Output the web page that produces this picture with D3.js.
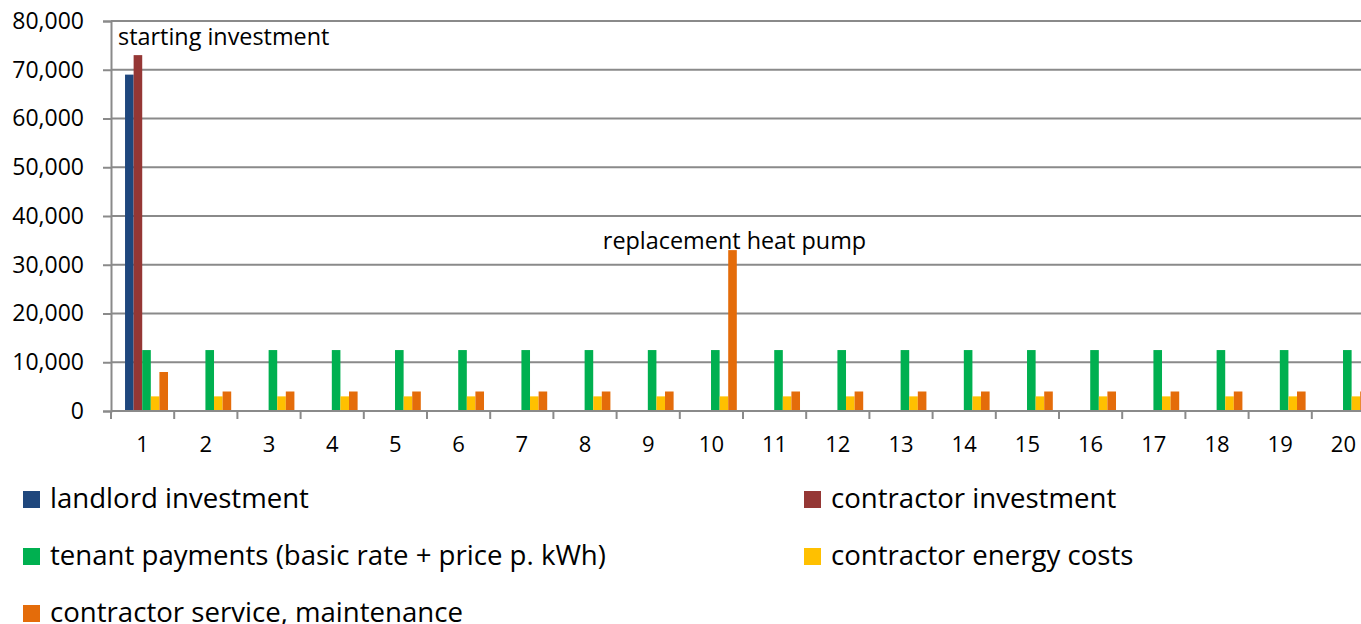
<!DOCTYPE html>
<html>
<head>
<meta charset="utf-8">
<script src="https://cdn.jsdelivr.net/npm/d3@7"></script>
<style>
  html, body { margin: 0; padding: 0; background: #fff; }
  svg { display: block; font-family: "Open Sans", "Noto Sans", sans-serif; }
</style>
</head>
<body>
<svg id="chart" width="1361" height="624"></svg>
<script>
// Years on the x axis.
const years = d3.range(1, 21).map(String);

// Series, one value per year (EUR).
const landlordInvestment = [69000, 0, 0, 0, 0, 0, 0, 0, 0, 0, 0, 0, 0, 0, 0, 0, 0, 0, 0, 0];
const contractorInvestment = [73000, 0, 0, 0, 0, 0, 0, 0, 0, 0, 0, 0, 0, 0, 0, 0, 0, 0, 0, 0];
const tenantPayments = [12500, 12500, 12500, 12500, 12500, 12500, 12500, 12500, 12500, 12500,
  12500, 12500, 12500, 12500, 12500, 12500, 12500, 12500, 12500, 12500];
const energyCosts = [3000, 3000, 3000, 3000, 3000, 3000, 3000, 3000, 3000, 3000,
  3000, 3000, 3000, 3000, 3000, 3000, 3000, 3000, 3000, 3000];
const serviceMaintenance = [8000, 4000, 4000, 4000, 4000, 4000, 4000, 4000, 4000, 33000,
  4000, 4000, 4000, 4000, 4000, 4000, 4000, 4000, 4000, 4000];

const seriesNames = [
  'landlord investment',
  'contractor investment',
  'tenant payments (basic rate + price p. kWh)',
  'contractor energy costs',
  'contractor service, maintenance',
];
const seriesValues = [landlordInvestment, contractorInvestment, tenantPayments,
  energyCosts, serviceMaintenance];
const seriesColors = ['#1f477d', '#953735', '#00b050', '#ffc000', '#e46c0a'];

const yTicks = [0, 10000, 20000, 30000, 40000, 50000, 60000, 70000, 80000];

// Labels sit above the bar they describe (series index 1 = contractor
// investment, 4 = service/maintenance).
const annotations = [
  {text: 'starting investment', year: '1', series: 1},
  {text: 'replacement heat pump', year: '10', series: 4},
];

const svg = d3.select('#chart');

// Plot area; the last category runs past the right edge, as in the original.
const plot = {left: 111, top: 21, bottom: 411, band: 63.2};

const x = d3.scaleBand()
    .domain(years)
    .range([plot.left, plot.left + plot.band * years.length]);

// Position of each series inside one year group.
const xSeries = d3.scaleBand()
    .domain(d3.range(seriesNames.length))
    .range([plot.band * 0.222, plot.band * 0.902]);

const y = d3.scaleLinear()
    .domain([0, 80000])
    .range([plot.bottom, plot.top]);

const gridColor = '#8a8a8a';

// Horizontal gridlines.
svg.append('g')
    .selectAll('line')
    .data(yTicks.filter(d => d > 0))
    .join('line')
    .attr('x1', plot.left)
    .attr('x2', 1361)
    .attr('y1', d => y(d))
    .attr('y2', d => y(d))
    .attr('stroke', gridColor)
    .attr('stroke-width', 2);

// Y axis.
const yAxis = svg.append('g')
    .attr('transform', `translate(${plot.left},0)`)
    .call(d3.axisLeft(y)
        .tickValues(yTicks)
        .tickSize(8)
        .tickPadding(19)
        .tickFormat(d3.format(',')));
yAxis.select('.domain').attr('stroke', gridColor).attr('stroke-width', 2);
yAxis.selectAll('.tick line').attr('stroke', gridColor).attr('stroke-width', 2);
yAxis.selectAll('.tick text')
    .attr('fill', '#000')
    .style('font-size', '23px')
    .style('font-family', '"Open Sans", sans-serif');

// Bars.
const groups = svg.append('g')
    .selectAll('g')
    .data(years)
    .join('g')
    .attr('transform', d => `translate(${x(d)},0)`);

groups.selectAll('rect')
    .data((year, i) => seriesValues.map((vals, s) => ({s, v: vals[i]})))
    .join('rect')
    .attr('x', d => xSeries(d.s))
    .attr('width', xSeries.bandwidth())
    .attr('y', d => y(d.v))
    .attr('height', d => y(0) - y(d.v))
    .attr('fill', d => seriesColors[d.s]);

// X axis with ticks between categories.
const xAxisG = svg.append('g').attr('transform', `translate(0,${plot.bottom})`);
xAxisG.append('line')
    .attr('x1', plot.left)
    .attr('x2', 1361)
    .attr('stroke', gridColor)
    .attr('stroke-width', 2);
xAxisG.selectAll('line.tick')
    .data(years)
    .join('line')
    .attr('class', 'tick')
    .attr('x1', d => x(d))
    .attr('x2', d => x(d))
    .attr('y1', 0)
    .attr('y2', 8)
    .attr('stroke', gridColor)
    .attr('stroke-width', 2);
xAxisG.selectAll('text')
    .data(years)
    .join('text')
    .attr('x', d => x(d) + x.bandwidth() / 2)
    .attr('y', 41)
    .attr('text-anchor', 'middle')
    .style('font-size', '22px')
    .text(d => d);

// Data annotations.
const valueAt = d => seriesValues[d.series][years.indexOf(d.year)];
svg.append('g')
    .selectAll('text')
    .data(annotations)
    .join('text')
    .attr('x', d => d.series === 1 ? x(d.year) + 7 :
      x(d.year) + xSeries(d.series) + xSeries.bandwidth() / 2 + 2)
    .attr('y', d => y(valueAt(d)) - (d.series === 1 ? 10 : 1))
    .attr('text-anchor', d => d.series === 1 ? 'start' : 'middle')
    .style('font-size', '23.4px')
    .text(d => d.text);

// Legend: two columns.
const legend = svg.append('g')
    .selectAll('g')
    .data(seriesNames)
    .join('g')
    .attr('transform', (d, i) =>
      `translate(${i % 2 === 0 ? 23 : 804},${491 + Math.floor(i / 2) * 57})`);
legend.append('rect')
    .attr('width', 17)
    .attr('height', 17)
    .attr('fill', (d, i) => seriesColors[i]);
legend.append('text')
    .attr('x', 27)
    .attr('y', 17)
    .style('font-size', '27.6px')
    .text(d => d);
</script>
</body>
</html>
